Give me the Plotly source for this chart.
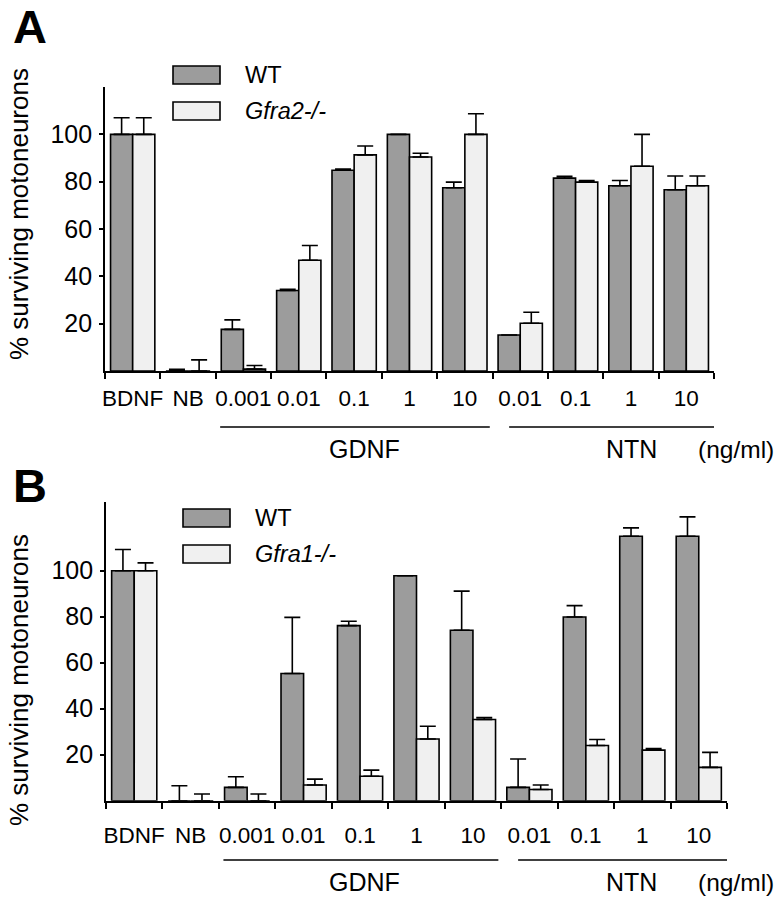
import plotly.graph_objects as go

W, H = 777, 899

categories = ["BDNF", "NB", "G0.001", "G0.01", "G0.1", "G1", "G10", "N0.01", "N0.1", "N1", "N10"]
tick_labels = ["BDNF", "NB", "0.001", "0.01", "0.1", "1", "10", "0.01", "0.1", "1", "10"]

# Panel A
a_wt = [100, 0, 17.6, 34, 84.8, 100, 77.4, 15.2, 81.5, 78.3, 76.6]
a_wt_err = [7, 0.7, 4, 0.5, 0.5, 0, 2.4, 0, 0.8, 2.2, 5.8]
a_ko = [100, 0, 0.8, 46.8, 91.3, 90.4, 100, 20.2, 79.8, 86.5, 78.3]
a_ko_err = [7, 4.7, 1.5, 6.2, 3.8, 1.6, 8.7, 4.6, 0.7, 13.5, 4.1]

# Panel B
b_wt = [100, 0, 5.8, 55.3, 76.1, 97.8, 74.1, 5.8, 79.9, 115, 115]
b_wt_err = [9.2, 6.5, 4.6, 24.4, 1.9, 0, 17, 12.3, 4.9, 3.6, 8.4]
b_ko = [100, 0, 0, 6.8, 10.6, 26.8, 35.3, 4.9, 24, 22, 14.5]
b_ko_err = [3.4, 2.9, 2.9, 2.6, 2.7, 5.6, 0.8, 1.9, 2.6, 0.7, 6.5]

y_ticks = [20, 40, 60, 80, 100]

WT_COLOR = "#9c9c9c"
KO_COLOR = "#f0f0f0"
FONT = "Liberation Sans, Arial, sans-serif"


def px(x):
    return x / W


def py(y):
    return 1 - y / H


fig = go.Figure()


def add_bars(vals, errs, color, xa, ya):
    fig.add_trace(go.Bar(
        x=categories, y=vals, marker=dict(color=color, line=dict(color="black", width=1.6)),
        error_y=dict(type="data", array=errs, arrayminus=[0] * len(errs), symmetric=False,
                     color="black", thickness=1.6, width=8),
        xaxis=xa, yaxis=ya, showlegend=False,
    ))


add_bars(a_wt, a_wt_err, WT_COLOR, "x", "y")
add_bars(a_ko, a_ko_err, KO_COLOR, "x", "y")
add_bars(b_wt, b_wt_err, WT_COLOR, "x2", "y2")
add_bars(b_ko, b_ko_err, KO_COLOR, "x2", "y2")

xcommon = dict(type="category", categoryorder="array", categoryarray=categories,
               tickvals=categories, ticktext=tick_labels, tickson="boundaries", tickangle=0,
               ticks="outside", ticklen=6, tickwidth=1.8, tickcolor="black",
               showline=True, linecolor="black", linewidth=1.8, showgrid=False,
               zeroline=False, range=[-0.5, 10.5], automargin=False,
               tickfont=dict(family=FONT, size=22.5, color="black"))
ycommon = dict(showline=True, linecolor="black", linewidth=1.8, showgrid=False, zeroline=False,
               tickvals=y_ticks, ticks="outside", ticklen=4, tickwidth=1.5, tickcolor="black",
               automargin=False,
               tickfont=dict(family=FONT, size=25, color="black"), ticklabelstandoff=2)

panelA = dict(x0=105, x1=714, top=87, bottom=371, ymax=120)
panelB = dict(x0=106, x1=727, top=501.7, bottom=800.7, ymax=130)

fig.update_layout(
    width=W, height=H, margin=dict(l=0, r=0, t=0, b=0, autoexpand=False),
    paper_bgcolor="white", plot_bgcolor="white",
    barmode="group", bargap=0.2, bargroupgap=0,
    xaxis=dict(xcommon, domain=[px(panelA["x0"]), px(panelA["x1"])], anchor="y", ticklabelstandoff=6),
    yaxis=dict(ycommon, domain=[py(panelA["bottom"]), py(panelA["top"])], range=[0, panelA["ymax"]], anchor="x"),
    xaxis2=dict(xcommon, domain=[px(panelB["x0"]), px(panelB["x1"])], anchor="y2", ticklabelstandoff=13),
    yaxis2=dict(ycommon, domain=[py(panelB["bottom"]), py(panelB["top"])], range=[0, panelB["ymax"]], anchor="x2"),
)

shapes = []
annotations = []


def txt(x, y, text, size=22, xanchor="center", **kw):
    annotations.append(dict(x=px(x), y=py(y), xref="paper", yref="paper", text=text, showarrow=False,
                            xanchor=xanchor, yanchor="middle",
                            font=dict(family=FONT, size=size, color="black"), **kw))


def panel_decor(letter, letter_y, legend_top, ko_name, title_y, group_line_y, group_text_y, xref):
    # panel letter
    txt(30, letter_y, "<b>%s</b>" % letter, size=47)
    # legend
    lx0 = 173 if letter == "A" else 183
    for i, (col, name) in enumerate([(WT_COLOR, "WT"), (KO_COLOR, ko_name)]):
        top = legend_top + i * 36
        shapes.append(dict(type="rect", xref="paper", yref="paper", x0=px(lx0), x1=px(lx0 + 47),
                           y0=py(top + 18), y1=py(top), fillcolor=col, line=dict(color="black", width=1.6)))
        txt(lx0 + 70, top + 9, name, size=23.5, xanchor="left")
    # y title
    txt(19, title_y, "% surviving motoneurons", size=26, textangle=-90)
    # group lines
    for (a, b) in [(1.58, 6.45), (6.8, 10.65)]:
        shapes.append(dict(type="line", xref=xref, yref="paper", x0=a, x1=b,
                           y0=py(group_line_y), y1=py(group_line_y), line=dict(color="black", width=1.6)))
    txt(364, group_text_y, "GDNF", size=25)
    txt(631, group_text_y, "NTN", size=25)
    txt(736, group_text_y, "(ng/ml)", size=24.5)


panel_decor("A", 27, 66, "<i>Gfra2-/-</i>", 214, 427, 449, "x")
panel_decor("B", 485, 509, "<i>Gfra1-/-</i>", 680, 860, 882, "x2")

fig.update_layout(shapes=shapes, annotations=annotations)
fig.write_html("out.html", config={"displayModeBar": False},
               post_script="document.body.style.margin='0';")
